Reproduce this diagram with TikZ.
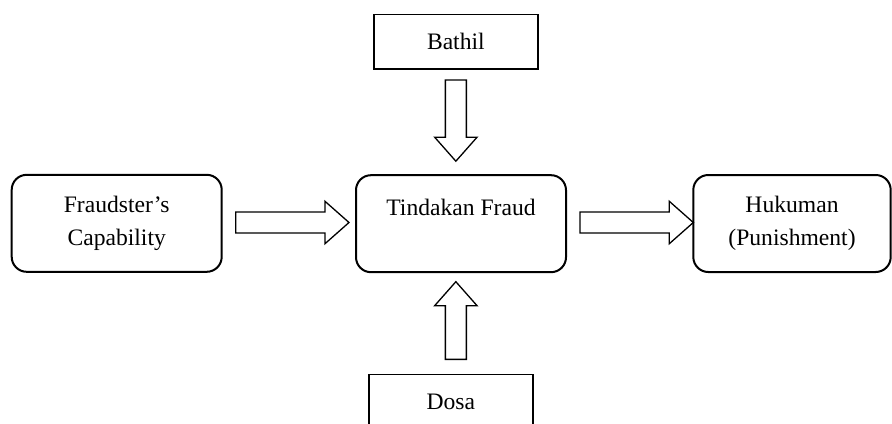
\documentclass[tikz,border=0pt]{standalone}
\usepackage{fontspec}
\setmainfont{Liberation Serif}
\usetikzlibrary{calc}

% Panah blok kosong dari #1 (ekor) ke #2 (ujung)
\newcommand{\panahblok}[2]{%
  \coordinate (pangkal) at ($(#2)!12pt!(#1)$);
  \draw[panah] ($(#1)!5.25pt!90:(#2)$) -- ($(pangkal)!5.25pt!90:(#2)$)
    -- ($(pangkal)!10.6pt!90:(#2)$) -- (#2)
    -- ($(pangkal)!10.6pt!-90:(#2)$) -- ($(pangkal)!5.25pt!-90:(#2)$)
    -- ($(#1)!5.25pt!-90:(#2)$) -- cycle;}

\begin{document}
\begin{tikzpicture}[x=0.5pt,y=-0.5pt,
    kotak/.style={draw,line width=1pt,rounded corners=7.5pt,outer sep=0pt,
      minimum width=105pt,minimum height=48.5pt,align=center,
      font=\fontsize{11.8}{16.2}\selectfont},
    kotaklurus/.style={draw,line width=0.8pt,outer sep=0pt,
      minimum width=81.85pt,minimum height=27.35pt,
      font=\fontsize{11.8}{16.2}\selectfont},
    panah/.style={line width=0.65pt,line join=miter}]
        \useasboundingbox (0,0) rectangle (892,423);
        \clip (0,0) rectangle (892,423);
        % Kotak utama
        \node[kotak] (kemampuan) at (116.7,223.3) {Fraudster’s\\Capability};
        \node[kotak] (tindakan) at (461,223.7) {Tindakan Fraud\\\mbox{}};
        \node[kotak,minimum width=98.7pt] (hukuman) at (792,223.5) {Hukuman\\(Punishment)};
        % Kotak atas dan bawah
        \node[kotaklurus] (bathil) at (455.85,41.7) {Bathil};
        \node[kotaklurus] (dosa) at (450.85,401.7) {Dosa}; % sisi bawah terpotong
        % Ekor dan ujung panah
        \coordinate (ekorAtas) at ($(bathil.south)+(0,11)$);
        \coordinate (ujungAtas) at ($(bathil.south |- tindakan.north)+(0,-14)$);
        \coordinate (ekorBawah) at ($(bathil.south |- dosa.north)+(0,-15)$);
        \coordinate (ujungBawah) at ($(bathil.south |- tindakan.south)+(0,9.5)$);
        \coordinate (ekorKiri) at ($(kemampuan.east)+(14,-0.8)$);
        \coordinate (ujungKiri) at ($(tindakan.west)+(-7,-1.2)$);
        \coordinate (ekorKanan) at ($(tindakan.east)+(14,-1.2)$);
        \coordinate (ujungKanan) at ($(hukuman.west)+(0,-1)$);
        % Panah blok
        \panahblok{ekorAtas}{ujungAtas}
        \panahblok{ekorBawah}{ujungBawah}
        \panahblok{ekorKiri}{ujungKiri}
        \panahblok{ekorKanan}{ujungKanan}
    \end{tikzpicture}
\end{document}
